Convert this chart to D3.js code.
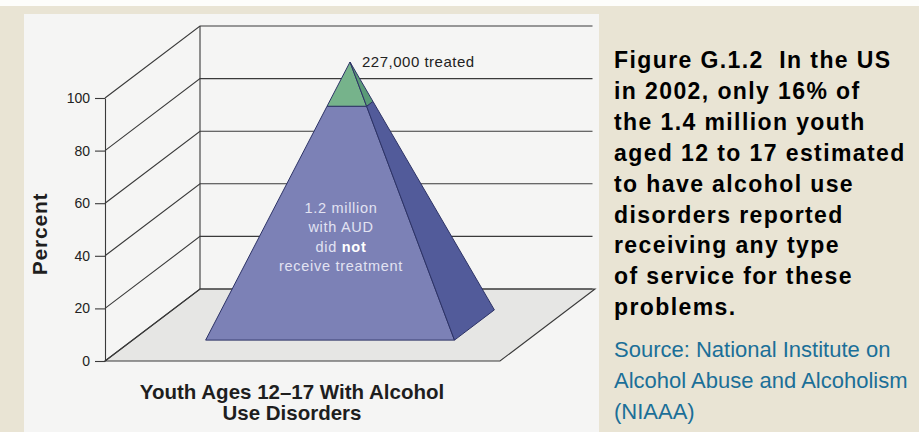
<!DOCTYPE html>
<html>
<head>
<meta charset="utf-8">
<script src="https://cdn.jsdelivr.net/npm/d3@7"></script>
<style>
  html, body { margin: 0; padding: 0; background: #e9e4d4; }
  svg { display: block; font-family: "Liberation Sans", Arial, Helvetica, sans-serif; }
</style>
</head>
<body>
<div id="chart"></div>
<script>
// data
const categories = ["Youth Ages 12–17 With Alcohol Use Disorders"]
const segmentNames = ["did not receive treatment", "treated"]
const segmentCounts = [1200000, 227000]
const yTicks = [0, 20, 40, 60, 80, 100]
const xLabelLines = ["Youth Ages 12–17 With Alcohol", "Use Disorders"]
const insideLines = [["1.2 million"], ["with AUD"], ["did ", "not"], ["receive treatment"]]
const treatedLabel = "227,000 treated"
const captionLines = [
  "Figure G.1.2  In the US",
  "in 2002, only 16% of",
  "the 1.4 million youth",
  "aged 12 to 17 estimated",
  "to have alcohol use",
  "disorders reported",
  "receiving any type",
  "of service for these",
  "problems."
]
const sourceLines = ["Source: National Institute on", "Alcohol Abuse and Alcoholism", "(NIAAA)"]

const width = 919
const height = 432

const svg = d3.select("#chart")
  .append("svg")
  .attr("width", width)
  .attr("height", height)

// backgrounds
svg.append("rect").attr("width", width).attr("height", height).attr("fill", "#e9e4d4")
svg.append("rect").attr("width", width).attr("height", 6).attr("fill", "#fdfdfb")
svg.append("rect").attr("x", 24).attr("y", 14).attr("width", 575).attr("height", height - 14).attr("fill", "#f5f5f4")

// scales
const xScale = d3.scaleBand()
  .domain(categories)
  .range([105, 500])
  .paddingInner(0.37)
  .paddingOuter(0.185)
const yScale = d3.scaleLinear()
  .domain([0, 100])
  .range([361, 98])
const depthX = d3.scaleLinear().domain([0, 1]).range([0, 95])
const depthY = d3.scaleLinear().domain([0, 1]).range([0, 72])

function proj(x, v, z) {
  return [x + depthX(z), yScale(v) - depthY(z)]
}
function lerp(p, q, t) {
  return [p[0] + (q[0] - p[0]) * t, p[1] + (q[1] - p[1]) * t]
}
const line = d3.line()
function poly(pts) { return line(pts) + "Z" }

const [x0, x1] = xScale.range()
const grid = svg.append("g").attr("stroke", "#3a3a3a").attr("stroke-width", 1.1).attr("fill", "none")

// floor
grid.append("path")
  .attr("d", poly([proj(x0, 0, 0), proj(x1, 0, 0), proj(x1, 0, 1), proj(x0, 0, 1)]))
  .attr("fill", "#e6e6e4")

// back wall gridlines and side diagonals
yTicks.forEach(t => {
  grid.append("path").attr("d", line([proj(x0, t, 0), proj(x0, t, 1), proj(x1 - 2.5, t, 1)]))
})
grid.append("path").attr("d", line([proj(x0, 0, 1), proj(x0, 100, 1)]))

// y axis
const yAxis = d3.axisLeft(yScale)
  .tickValues(yTicks)
  .tickSize(10)
  .tickSizeOuter(0)
  .tickPadding(5)
svg.append("g")
  .attr("transform", `translate(${x0}, 0)`)
  .call(yAxis)
  .call(g => g.selectAll("path, line").attr("stroke", "#3a3a3a").attr("stroke-width", 1.1))
  .call(g => g.selectAll("text").attr("font-size", 14).attr("fill", "#222").attr("font-family", "Liberation Sans, Arial, sans-serif"))

svg.append("text")
  .attr("transform", `translate(47, 234) rotate(-90)`)
  .attr("text-anchor", "middle")
  .attr("font-size", 21)
  .attr("font-weight", "bold")
  .attr("letter-spacing", 0.8)
  .attr("fill", "#1e1e1e")
  .text("Percent")

// pyramid
const total = d3.sum(segmentCounts)
const split = segmentCounts[0] / total * 100
const bx0 = xScale(categories[0])
const bx1 = bx0 + xScale.bandwidth()
const z0 = 0.29, z1 = 0.71
const apex = proj((bx0 + bx1) / 2, 100, (z0 + z1) / 2)
const L = proj(bx0, 0, z0)
const R = proj(bx1, 0, z0)
const BR = proj(bx1, 0, z1)
const t = split / 100
const Ls = lerp(L, apex, t), Rs = lerp(R, apex, t), BRs = lerp(BR, apex, t)

const pyr = svg.append("g").attr("stroke", "#2d3366").attr("stroke-width", 1).attr("stroke-linejoin", "round")
pyr.append("path").attr("d", poly([L, R, Rs, Ls])).attr("fill", "#7c81b6")
pyr.append("path").attr("d", poly([R, BR, BRs, Rs])).attr("fill", "#525b9a")
pyr.append("path").attr("d", poly([Ls, Rs, apex])).attr("fill", "#76b38b")
pyr.append("path").attr("d", poly([Rs, BRs, apex])).attr("fill", "#5a9a77")

// inside label
const inside = svg.append("text")
  .attr("text-anchor", "middle")
  .attr("font-size", 14.5)
  .attr("letter-spacing", 0.7)
  .attr("fill", "#e2e3f2")
insideLines.forEach((parts, i) => {
  parts.forEach((p, j) => {
    const ts = inside.append("tspan").text(p)
    if (j === 0) ts.attr("x", 341).attr("y", 213 + i * 19.4)
    if (p === "not") ts.attr("font-weight", "bold").attr("fill", "#ffffff")
  })
})

svg.append("text")
  .attr("x", apex[0] + 12)
  .attr("y", apex[1] + 5)
  .attr("font-size", 15)
  .attr("letter-spacing", 0.5)
  .attr("fill", "#222")
  .text(treatedLabel)

// x label
svg.append("g")
  .selectAll("text")
  .data(xLabelLines)
  .join("text")
  .attr("x", 292)
  .attr("y", (d, i) => 399 + i * 21)
  .attr("text-anchor", "middle")
  .attr("font-size", 20.5)
  .attr("font-weight", "bold")
  .attr("fill", "#1e1e1e")
  .text(d => d)

// caption
svg.append("g")
  .selectAll("text")
  .data(captionLines)
  .join("text")
  .attr("x", 614)
  .attr("y", (d, i) => 68 + i * 30.9)
  .attr("font-size", 23)
  .attr("font-weight", "bold")
  .attr("letter-spacing", 1.4)
  .attr("fill", "#000")
  .attr("xml:space", "preserve")
  .style("white-space", "pre")
  .text(d => d)

svg.append("g")
  .selectAll("text")
  .data(sourceLines)
  .join("text")
  .attr("x", 614)
  .attr("y", (d, i) => 357 + i * 31)
  .attr("font-size", 22)
  .attr("fill", "#1b6f98")
  .text(d => d)
</script>
</body>
</html>
